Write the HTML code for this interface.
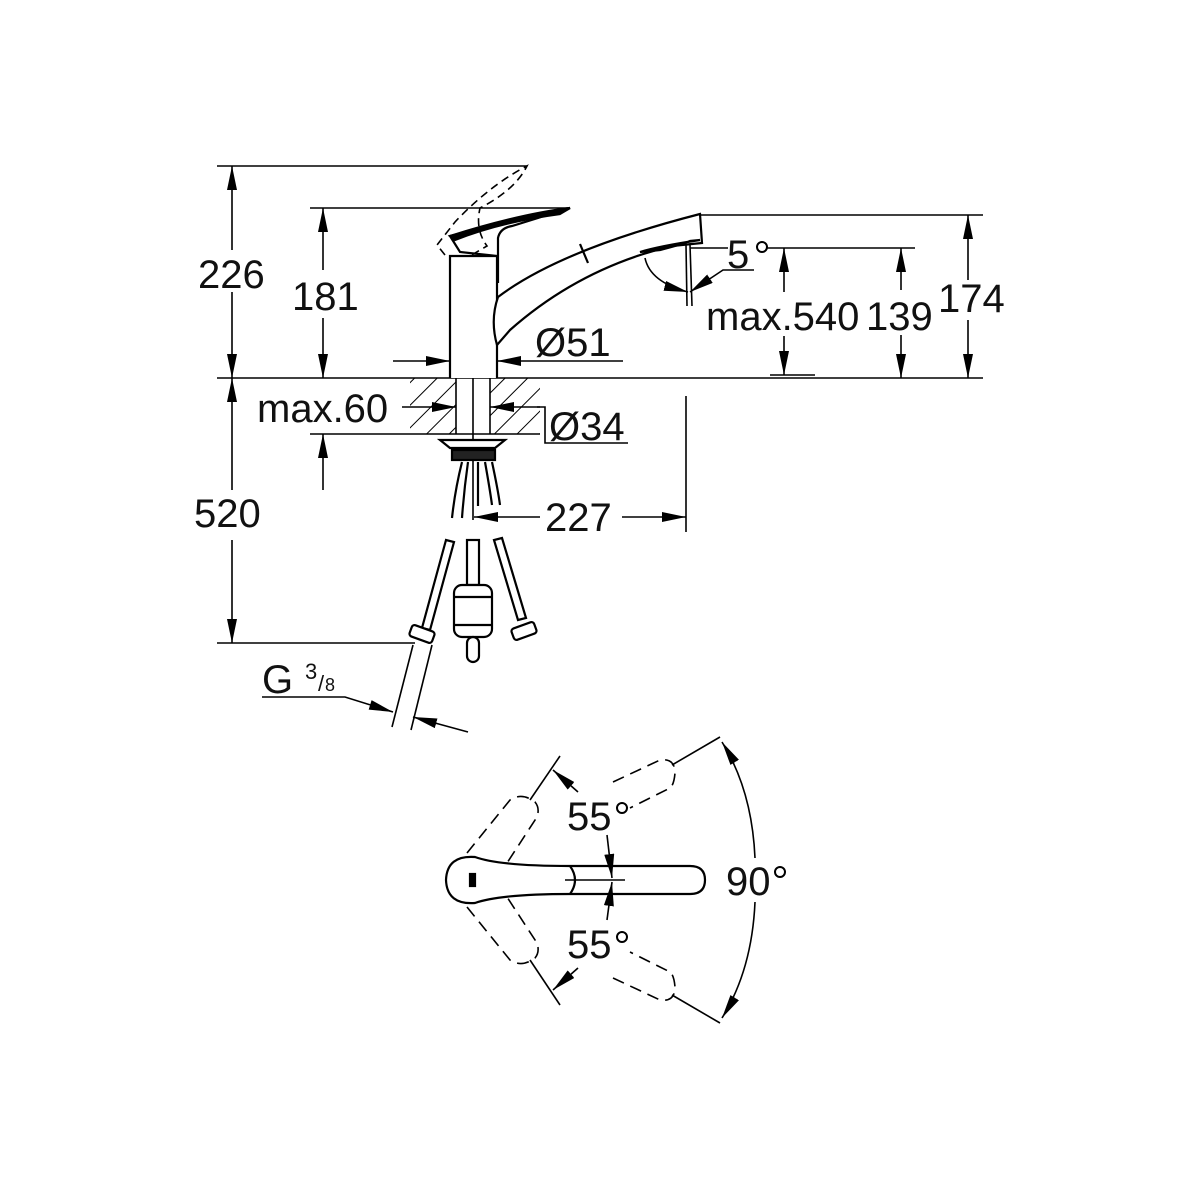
<!DOCTYPE html>
<html><head><meta charset="utf-8"><style>
html,body{margin:0;padding:0;background:#fff;}
svg{display:block;}
text{font-family:"Liberation Sans",sans-serif;font-size:40px;fill:#111;}
</style></head><body>
<svg width="1200" height="1200" viewBox="0 0 1200 1200" xmlns="http://www.w3.org/2000/svg">
<defs>
<marker id="a" viewBox="0 0 24 10" refX="24" refY="5" markerWidth="24" markerHeight="10" markerUnits="userSpaceOnUse" orient="auto-start-reverse"><path d="M0,0 L24,5 L0,10 Z" fill="#000"/></marker>
<pattern id="h" width="16" height="16" patternUnits="userSpaceOnUse" patternTransform="rotate(45)"><line x1="0" y1="0" x2="0" y2="16" stroke="#000" stroke-width="2"/></pattern>
</defs>
<g stroke="#000" stroke-width="1.6" fill="none">
<line x1="217" y1="166" x2="527" y2="166"/>
<line x1="310" y1="208" x2="570" y2="208"/>
<line x1="217" y1="378" x2="983" y2="378"/>
<line x1="700" y1="215" x2="983" y2="215"/>
<line x1="690" y1="248" x2="728" y2="248"/>
<line x1="767" y1="248" x2="915" y2="248"/>
<line x1="770" y1="375" x2="815" y2="375"/>
<line x1="232" y1="166" x2="232" y2="250" marker-start="url(#a)"/>
<line x1="232" y1="292" x2="232" y2="378" marker-end="url(#a)"/>
<line x1="323" y1="208" x2="323" y2="270" marker-start="url(#a)"/>
<line x1="323" y1="318" x2="323" y2="378" marker-end="url(#a)"/>
<line x1="968" y1="215" x2="968" y2="280" marker-start="url(#a)"/>
<line x1="968" y1="320" x2="968" y2="378" marker-end="url(#a)"/>
<line x1="901" y1="248" x2="901" y2="290" marker-start="url(#a)"/>
<line x1="901" y1="335" x2="901" y2="378" marker-end="url(#a)"/>
<line x1="784" y1="248" x2="784" y2="292" marker-start="url(#a)"/>
<line x1="784" y1="336" x2="784" y2="375" marker-end="url(#a)"/>
<line x1="686" y1="245" x2="687" y2="306"/>
<line x1="690" y1="245" x2="692" y2="306"/>
<path d="M645,258 Q650,282 688,292" marker-end="url(#a)"/>
<path d="M754,270 L723,270 L690,292" marker-end="url(#a)"/>
<line x1="393" y1="361" x2="450" y2="361" marker-end="url(#a)"/>
<line x1="623" y1="361" x2="497" y2="361" marker-end="url(#a)"/>
<rect x="410" y="378" width="46" height="56" fill="url(#h)" stroke="none"/>
<rect x="490" y="378" width="50" height="56" fill="url(#h)" stroke="none"/>
<line x1="410" y1="434" x2="540" y2="434"/>
<line x1="456" y1="378" x2="456" y2="434"/>
<line x1="490" y1="378" x2="490" y2="434"/>
<line x1="473" y1="378" x2="473" y2="520"/>
<line x1="402" y1="407" x2="456" y2="407" marker-end="url(#a)"/>
<line x1="540" y1="407" x2="490" y2="407" marker-end="url(#a)"/>
<polyline points="537,407 545,407 545,443 628,443"/>
<line x1="310" y1="434" x2="410" y2="434"/>
<line x1="323" y1="490" x2="323" y2="434" marker-end="url(#a)"/>
<line x1="232" y1="378" x2="232" y2="490" marker-start="url(#a)"/>
<line x1="232" y1="540" x2="232" y2="643" marker-end="url(#a)"/>
<line x1="217" y1="643" x2="415" y2="643"/>
<line x1="686" y1="396" x2="686" y2="532"/>
<line x1="540" y1="517" x2="474" y2="517" marker-end="url(#a)"/>
<line x1="622" y1="517" x2="686" y2="517" marker-end="url(#a)"/>
<polyline points="262,697 345,697 393,712" marker-end="url(#a)"/>
<line x1="468" y1="732" x2="413" y2="717" marker-end="url(#a)"/>
<line x1="413" y1="645" x2="392" y2="727"/>
<line x1="432" y1="645" x2="411" y2="730"/>
</g>
<g stroke="#000" stroke-width="2.2" fill="#fff">
<path d="M450,378 L450,256 L497,256 L497,378"/>
<path d="M497,345 Q490,320 498,297 Q560,250 700,214 L702,243 L672,246 Q580,268 510,330 Z"/>
<line x1="580" y1="244" x2="588" y2="263"/>
<path d="M498,283 L498,238 Q500,228 512,226 L538,218 Q560,210 570,208 Q540,212 450,236 L460,252 L497,256"/>
<path d="M450,236 Q520,214 570,208 L560,214 Q500,222 455,240 Z" fill="#000"/>
<path d="M690,241 Q680,245 660,250 L640,252 Q660,246 700,240 Z" fill="#000"/>
<path d="M440,440 L505,440 L495,448 L450,448 Z"/>
<rect x="452" y="450" width="43" height="10" fill="#222"/>
<path d="M462,462 Q455,490 452,518 M468,462 Q464,490 462,518 M478,462 L478,506 M485,462 Q490,490 492,505 M492,462 Q498,490 500,505"/>
<path d="M446,540 L422,628 L430,630 L454,542 Z"/>
<path d="M494,540 L518,620 L526,618 L502,538 Z"/>
<rect x="467" y="540" width="12" height="45"/>
<rect x="454" y="585" width="38" height="52" rx="8"/>
<line x1="454" y1="597" x2="492" y2="597"/>
<line x1="454" y1="625" x2="492" y2="625"/>
<rect x="467" y="637" width="12" height="25" rx="6"/>
<rect x="410" y="628" width="24" height="12" rx="3" transform="rotate(20 422 634)"/>
<rect x="512" y="625" width="24" height="12" rx="3" transform="rotate(-20 524 631)"/>
</g>
<g stroke="#000" stroke-width="1.6" fill="none" stroke-dasharray="8,5">
<path d="M445,255 L437,245 L455,222 Q490,185 527,166 Q515,190 480,208 Q475,230 487,246 L470,256"/>
</g>
<g stroke="#000" stroke-width="2.2" fill="#fff">
<path d="M475,857 Q500,866 570,866 L690,866 Q705,866 705,880 Q705,894 690,894 L570,894 Q500,894 475,903 Q447,905 446,880 Q447,855 475,857 Z"/>
<path d="M570,866 Q580,880 570,894"/>
<line x1="565" y1="880" x2="625" y2="880" stroke-width="1.4"/>
<rect x="470" y="874" width="5" height="12" fill="#000"/>
</g>
<g stroke="#000" stroke-width="1.6" fill="none" stroke-dasharray="12,7">
<path d="M467,853 L510,800 Q522,792 535,802 Q540,808 537,817 L507,863"/>
<path d="M467,907 L510,960 Q522,968 535,958 Q540,952 537,943 L507,897"/>
<path d="M613,782 L660,760 Q675,758 675,773 Q674,785 670,788 L630,808"/>
<path d="M613,978 L660,1000 Q675,1002 675,987 Q674,975 670,972 L630,952"/>
</g>
<g stroke="#000" stroke-width="1.6" fill="none">
<line x1="530" y1="800" x2="560" y2="756"/>
<line x1="530" y1="960" x2="560" y2="1005"/>
<line x1="672" y1="765" x2="720" y2="737"/>
<line x1="672" y1="995" x2="720" y2="1023"/>
<path d="M578,792 L553,770" marker-end="url(#a)"/>
<path d="M578,968 L553,990" marker-end="url(#a)"/>
<path d="M607,835 L612,878" marker-end="url(#a)"/>
<path d="M607,920 L612,882" marker-end="url(#a)"/>
<path d="M755,858 Q752,790 722,742" marker-end="url(#a)"/>
<path d="M755,902 Q752,970 722,1018" marker-end="url(#a)"/>
</g>
<text x="198" y="288">226</text>
<text x="292" y="310">181</text>
<text x="938" y="312">174</text>
<text x="866" y="330">139</text>
<text x="706" y="330">max.540</text>
<text x="727" y="268">5</text><circle cx="762" cy="247" r="5" stroke="#000" stroke-width="2" fill="none"/>
<text x="535" y="356">Ø51</text>
<text x="257" y="422">max.60</text>
<text x="549" y="440">Ø34</text>
<text x="194" y="527">520</text>
<text x="545" y="531">227</text>
<text x="262" y="693">G</text>
<text x="305" y="679" style="font-size:22px">3</text>
<text x="318" y="691" style="font-size:22px">/</text>
<text x="325" y="691" style="font-size:18px">8</text>
<text x="567" y="830">55</text><circle cx="622" cy="808" r="5" stroke="#000" stroke-width="2" fill="none"/>
<text x="567" y="958">55</text><circle cx="622" cy="937" r="5" stroke="#000" stroke-width="2" fill="none"/>
<text x="726" y="895">90</text><circle cx="780" cy="872" r="5" stroke="#000" stroke-width="2" fill="none"/>
</svg>
</body></html>
